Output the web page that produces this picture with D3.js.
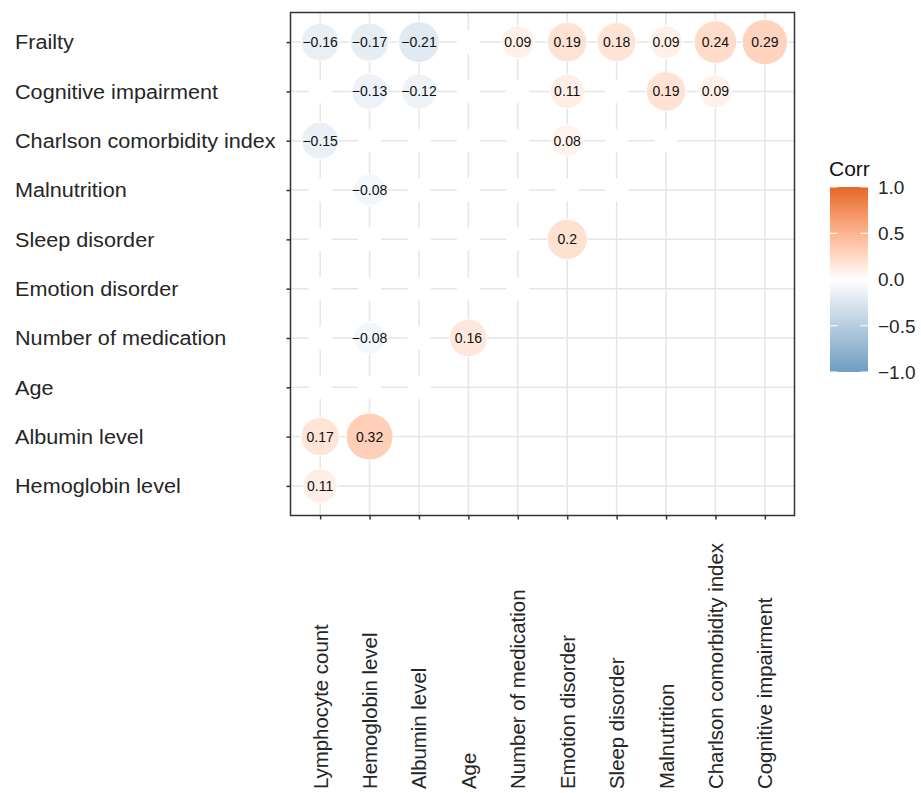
<!DOCTYPE html>
<html>
<head>
<meta charset="utf-8">
<script src="https://cdn.jsdelivr.net/npm/d3@7"></script>
<style>
  html, body { margin: 0; padding: 0; background: #fff; }
  svg { display: block; font-family: "Liberation Sans", Arial, Helvetica, sans-serif; }
</style>
</head>
<body>
<svg id="chart" width="921" height="793"></svg>
<script>
// ---------------- DATA ----------------
const columns = ["Lymphocyte count", "Hemoglobin level", "Albumin level", "Age",
  "Number of medication", "Emotion disorder", "Sleep disorder", "Malnutrition",
  "Charlson comorbidity index", "Cognitive impairment"];
const rowNames = ["Frailty", "Cognitive impairment", "Charlson comorbidity index",
  "Malnutrition", "Sleep disorder", "Emotion disorder", "Number of medication",
  "Age", "Albumin level", "Hemoglobin level"];

// values per row, left to right over the columns; null = not significant (blank)
const frailty      = [-0.16, -0.17, -0.21, null, 0.09, 0.19, 0.18, 0.09, 0.24, 0.29];
const cognitive    = [null, -0.13, -0.12, null, null, 0.11, null, 0.19, 0.09];
const charlson     = [-0.15, null, null, null, null, 0.08, null, null];
const malnutrition = [null, -0.08, null, null, null, null, null];
const sleep        = [null, null, null, null, null, 0.2];
const emotion      = [null, null, null, null, null];
const medication   = [null, -0.08, null, 0.16];
const age          = [null, null, null];
const albumin      = [0.17, 0.32];
const hemoglobin   = [0.11];
const rowValues = [frailty, cognitive, charlson, malnutrition, sleep, emotion,
  medication, age, albumin, hemoglobin];

const legendTicks = [-1, -0.5, 0, 0.5, 1];
const legendTickLabels = ["\u22121.0", "\u22120.5", "0.0", "0.5", "1.0"];
const legendTitle = "Corr";

// ---------------- LAYOUT ----------------
const svg = d3.select("#chart");
const panel = { left: 290.5, right: 794.5, top: 12.5, bottom: 515.5 };

const x = d3.scalePoint().domain(columns).range([panel.left, panel.right]).padding(0.6);
const y = d3.scalePoint().domain(rowNames).range([panel.top, panel.bottom]).padding(0.6);

const fill = d3.scaleLinear().domain([-1, 0, 1])
  .range(["#6D9EC1", "#FFFFFF", "#E46726"]).interpolate(d3.interpolateLab);

const cells = [];
rowValues.forEach((vals, i) => {
  vals.forEach((v, j) => {
    cells.push({ row: rowNames[i], col: columns[j], value: v });
  });
});
const sig = cells.filter(d => d.value !== null);
const absExt = d3.extent(sig, d => Math.abs(d.value));
const radius = d3.scaleRadial().domain(absExt).range([16, 23.5]);

// grid
const gridColor = "#e6e6e6";
const grid = svg.append("g");
grid.selectAll("line.v").data(columns).join("line")
  .attr("x1", d => x(d)).attr("x2", d => x(d))
  .attr("y1", panel.top).attr("y2", panel.bottom)
  .attr("stroke", gridColor).attr("stroke-width", 1.5);
grid.selectAll("line.h").data(rowNames).join("line")
  .attr("y1", d => y(d)).attr("y2", d => y(d))
  .attr("x1", panel.left).attr("x2", panel.right)
  .attr("stroke", gridColor).attr("stroke-width", 1.5);

// blank (non-significant) cells: white discs over the grid
svg.append("g").selectAll("circle").data(cells.filter(d => d.value === null)).join("circle")
  .attr("cx", d => x(d.col)).attr("cy", d => y(d.row)).attr("r", 11.5)
  .attr("fill", "#fff");

// significant cells
const g = svg.append("g");
g.selectAll("circle").data(sig).join("circle")
  .attr("cx", d => x(d.col)).attr("cy", d => y(d.row))
  .attr("r", d => radius(Math.abs(d.value)))
  .attr("fill", d => fill(d.value))
  .attr("stroke", "#fff").attr("stroke-width", 1);
g.selectAll("text").data(sig).join("text")
  .attr("x", d => x(d.col)).attr("y", d => y(d.row))
  .attr("dy", "0.36em")
  .attr("text-anchor", "middle")
  .attr("font-size", 14)
  .attr("fill", "#111")
  .text(d => String(d.value).replace("-", "\u2212"));

// panel border
svg.append("rect")
  .attr("x", panel.left).attr("y", panel.top)
  .attr("width", panel.right - panel.left).attr("height", panel.bottom - panel.top)
  .attr("fill", "none").attr("stroke", "#333").attr("stroke-width", 1.5);

// axes
const textColor = "#262626";
const sx = 1.03;
const yAxis = svg.append("g").attr("transform", `translate(${panel.left},0)`)
  .call(d3.axisLeft(y).tickSize(4).tickPadding(4));
yAxis.select(".domain").remove();
yAxis.selectAll(".tick line").attr("stroke", "#333").attr("stroke-width", 1.5);
yAxis.selectAll(".tick text")
  .attr("x", (15 - panel.left) / sx).attr("dy", "0.32em")
  .attr("transform", `scale(${sx},1)`)
  .attr("text-anchor", "start")
  .attr("font-size", 21).attr("fill", textColor)
  .attr("font-family", "'Liberation Sans', Arial, sans-serif");

const xAxis = svg.append("g").attr("transform", `translate(0,${panel.bottom})`)
  .call(d3.axisBottom(x).tickSize(4));
xAxis.select(".domain").remove();
xAxis.selectAll(".tick line").attr("stroke", "#333").attr("stroke-width", 1.5);
xAxis.selectAll(".tick text")
  .attr("x", 0).attr("y", 0).attr("dy", null)
  .attr("transform", `translate(7,${789 - panel.bottom}) rotate(-90)`)
  .attr("text-anchor", "start")
  .attr("font-size", 20.4).attr("fill", textColor)
  .attr("font-family", "'Liberation Sans', Arial, sans-serif");

// legend
const leg = { x: 830, w: 38, top: 187, bottom: 372 };
const ly = d3.scaleLinear().domain([-1, 1]).range([leg.bottom, leg.top]);
const defs = svg.append("defs");
const grad = defs.append("linearGradient").attr("id", "corrgrad")
  .attr("x1", 0).attr("x2", 0).attr("y1", 1).attr("y2", 0);
d3.range(0, 1.0001, 0.05).forEach(t => {
  grad.append("stop").attr("offset", t).attr("stop-color", fill(-1 + 2 * t));
});
svg.append("text").attr("x", leg.x - 1).attr("y", 176)
  .attr("font-size", 21).attr("fill", "#111").text(legendTitle);
svg.append("rect").attr("x", leg.x).attr("y", leg.top)
  .attr("width", leg.w).attr("height", leg.bottom - leg.top)
  .attr("fill", "url(#corrgrad)");
const lt = svg.append("g");
legendTicks.forEach((v, i) => {
  lt.append("line").attr("x1", leg.x).attr("x2", leg.x + leg.w / 5)
    .attr("y1", ly(v)).attr("y2", ly(v)).attr("stroke", "#fff").attr("stroke-width", 1);
  lt.append("line").attr("x1", leg.x + leg.w - leg.w / 5).attr("x2", leg.x + leg.w)
    .attr("y1", ly(v)).attr("y2", ly(v)).attr("stroke", "#fff").attr("stroke-width", 1);
  lt.append("text").attr("x", 878).attr("y", ly(v)).attr("dy", "0.36em")
    .attr("font-size", 19).attr("fill", "#262626").text(legendTickLabels[i]);
});
</script>
</body>
</html>
